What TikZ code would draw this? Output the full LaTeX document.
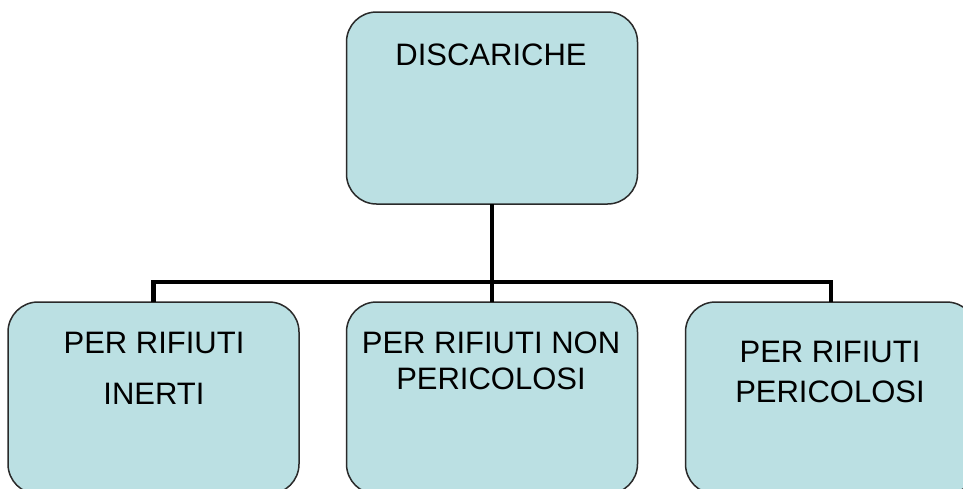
\documentclass[tikz,border=0pt]{standalone}
\usepackage{fontspec}
\setmainfont{Liberation Sans}
\definecolor{boxfill}{HTML}{BBE0E3}
\definecolor{boxline}{HTML}{2A2A2A}
\tikzset{
  box/.style={draw=boxline, line width=1.5pt, fill=boxfill, rounded corners=30pt,
    minimum width=291pt, minimum height=192pt, inner sep=0pt, outer sep=0pt},
  lbl/.style={anchor=base, inner sep=0pt, font=\fontsize{31}{36}\selectfont},
  conn/.style={line width=4.5pt, black}
}
\begin{document}
\begin{tikzpicture}[x=1pt,y=-1pt]
\useasboundingbox (0,0) rectangle (963,488);
\fill[white] (0,0) rectangle (963,488);
\clip (0,0) rectangle (963,488);
\node[box] (top) at (492,108) {};
\node[box] (left) at (153.5,398) {};
\node[box] (mid) at (492,398) {};
\node[box] (right) at (831,398) {};
\coordinate (bus) at (492,282);
\draw[conn] (top.south) -- (bus);
\draw[conn] (left.north) |- (bus) -| (right.north);
\draw[conn] (bus) -- (mid.north);
\node[lbl] (t0) at (491,65) {DISCARICHE};
\node[lbl] (l1) at (154,353) {PER RIFIUTI};
\node[lbl] (l2) at (154,404) {INERTI};
\node[lbl] (m1) at (491,353) {PER RIFIUTI NON};
\node[lbl] (m2) at (491,389) {PERICOLOSI};
\node[lbl] (r1) at (830,362) {PER RIFIUTI};
\node[lbl] (r2) at (830,402) {PERICOLOSI};
\end{tikzpicture}
\end{document}
